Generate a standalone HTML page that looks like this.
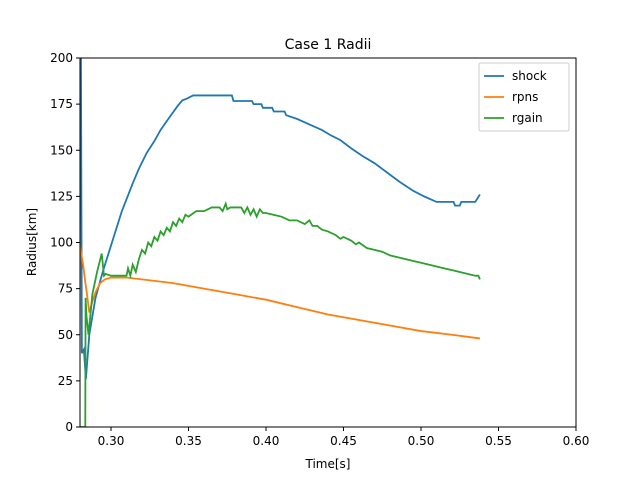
<!DOCTYPE html>
<html><head><meta charset="utf-8"><style>
body{margin:0;background:#fff}
svg{display:block;font-family:"DejaVu Sans","Liberation Sans",sans-serif}
</style></head><body>
<svg id="chart" width="640" height="480" viewBox="0 0 640 480">
<rect width="640" height="480" fill="#fff"/>
<text x="328" y="49" font-size="14" text-anchor="middle">Case 1 Radii</text>
<g id="plot"></g>
<g id="axes"></g>
<text x="328" y="468" font-size="12" text-anchor="middle">Time[s]</text>
<text transform="translate(36,242) rotate(-90)" font-size="12" text-anchor="middle">Radius[km]</text>
<g>
<rect x="479" y="63" width="90" height="68" rx="2" fill="#fff" fill-opacity="0.8" stroke="#ccc"/>
<line x1="484" y1="76" x2="504" y2="76" stroke="#1f77b4" stroke-width="1.8"/>
<text x="512" y="80" font-size="12">shock</text>
<line x1="484" y1="97" x2="504" y2="97" stroke="#ff7f0e" stroke-width="1.8"/>
<text x="512" y="101" font-size="12">rpns</text>
<line x1="484" y1="118" x2="504" y2="118" stroke="#2ca02c" stroke-width="1.8"/>
<text x="512" y="122" font-size="12">rgain</text>
</g>
</svg>
<script>
const xTicks=[0.30,0.35,0.40,0.45,0.50,0.55,0.60];
const xTickLabels=["0.30","0.35","0.40","0.45","0.50","0.55","0.60"];
const yTicks=[0,25,50,75,100,125,150,175,200];
const shockT=[0.2805,0.2812,0.2825,0.2838,0.286,0.290,0.295,0.301,0.307,0.314,0.318,0.323,0.328,0.332,0.337,0.343,0.346,0.349,0.353,0.365,0.378,0.379,0.391,0.392,0.397,0.398,0.404,0.405,0.412,0.413,0.420,0.428,0.436,0.442,0.448,0.455,0.462,0.470,0.478,0.486,0.495,0.502,0.510,0.521,0.522,0.525,0.526,0.535,0.538];
const shockR=[230,40,42,26,50,70,85,101,117,132,140,148.5,155,161,167,174,177,178,179.7,179.7,179.7,176.7,176.7,175,175,173,173,171,171,169,167,164,161,158,155.5,151,147,143,138,133,128,125,122,122,120,120,122,122,126];
const rpnsT=[0.280,0.282,0.2835,0.2845,0.286,0.288,0.290,0.293,0.296,0.300,0.310,0.320,0.340,0.360,0.380,0.400,0.420,0.440,0.460,0.480,0.500,0.520,0.538];
const rpnsR=[98,88,78,72,62,68,73,78,80,81,81,80,78,75,72,69,65,61,58,55,52,50,48];
const gainT=[0.2800,0.2834,0.2836,0.2842,0.2855,0.288,0.291,0.294,0.2955,0.2965,0.300,0.305,0.310,0.311,0.3125,0.314,0.316,0.318,0.320,0.322,0.324,0.326,0.328,0.330,0.332,0.334,0.336,0.338,0.340,0.342,0.344,0.346,0.348,0.350,0.355,0.360,0.365,0.370,0.372,0.374,0.375,0.377,0.380,0.384,0.386,0.388,0.390,0.392,0.394,0.396,0.398,0.400,0.405,0.410,0.415,0.420,0.425,0.428,0.430,0.433,0.436,0.440,0.445,0.448,0.450,0.455,0.458,0.460,0.465,0.470,0.475,0.480,0.485,0.490,0.495,0.500,0.505,0.510,0.515,0.520,0.525,0.530,0.535,0.537,0.538];
const gainR=[0,0,70,60,50,72,84,94,82,83,82,82,82,86,82,88,84,91,96,94,100,98,103,101,106,104,108,106,111,109,113,111,115,114,117,117,119,119,117,121,118,119,119,119,116,119,115,118,114,118,116,116,115,114,112,112,110,112,109,109,107,106,104,102,103,101,99,100,97,96,95,93,92,91,90,89,88,87,86,85,84,83,82,82,80];
const L=80,R=576,T=58,B=427,X0=0.28,X1=0.60,Y0=0,Y1=200;
const xs=v=>L+(v-X0)/(X1-X0)*(R-L);
const ys=v=>B-(v-Y0)/(Y1-Y0)*(B-T);
const NS="http://www.w3.org/2000/svg";
const plot=document.getElementById('plot'),axes=document.getElementById('axes');
function mk(t,a,p){const e=document.createElementNS(NS,t);for(const k in a)e.setAttribute(k,a[k]);p.appendChild(e);return e;}
const defs=mk('defs',{},plot);const cp=mk('clipPath',{id:'c'},defs);mk('rect',{x:L,y:T,width:R-L,height:B-T},cp);
function series(tx,ry,color,name){
 const d=tx.map((t,i)=>(i?'L':'M')+xs(t).toFixed(2)+','+ys(ry[i]).toFixed(2)).join('');
 const p=mk('path',{d:d,fill:'none',stroke:color,'stroke-width':1.8,'clip-path':'url(#c)'},plot);
 
 
}
series(shockT,shockR,'#1f77b4','shock-line');
series(rpnsT,rpnsR,'#ff7f0e','rpns-line');
series(gainT,gainR,'#2ca02c','rgain-line');
mk('rect',{x:L,y:T,width:R-L,height:B-T,fill:'none',stroke:'#000','stroke-width':1},axes);
xTicks.forEach((v,i)=>{const x=xs(v);mk('line',{x1:x,y1:B,x2:x,y2:B+4,stroke:'#000'},axes);
 const t=mk('text',{x:x,y:B+18,'font-size':12,'text-anchor':'middle'},axes);t.textContent=xTickLabels[i];
 
 });
yTicks.forEach(v=>{const y=ys(v);mk('line',{x1:L-4,y1:y,x2:L,y2:y,stroke:'#000'},axes);
 const t=mk('text',{x:L-7,y:y+4,'font-size':12,'text-anchor':'end'},axes);t.textContent=v;
 
 });
</script>
</body></html>
